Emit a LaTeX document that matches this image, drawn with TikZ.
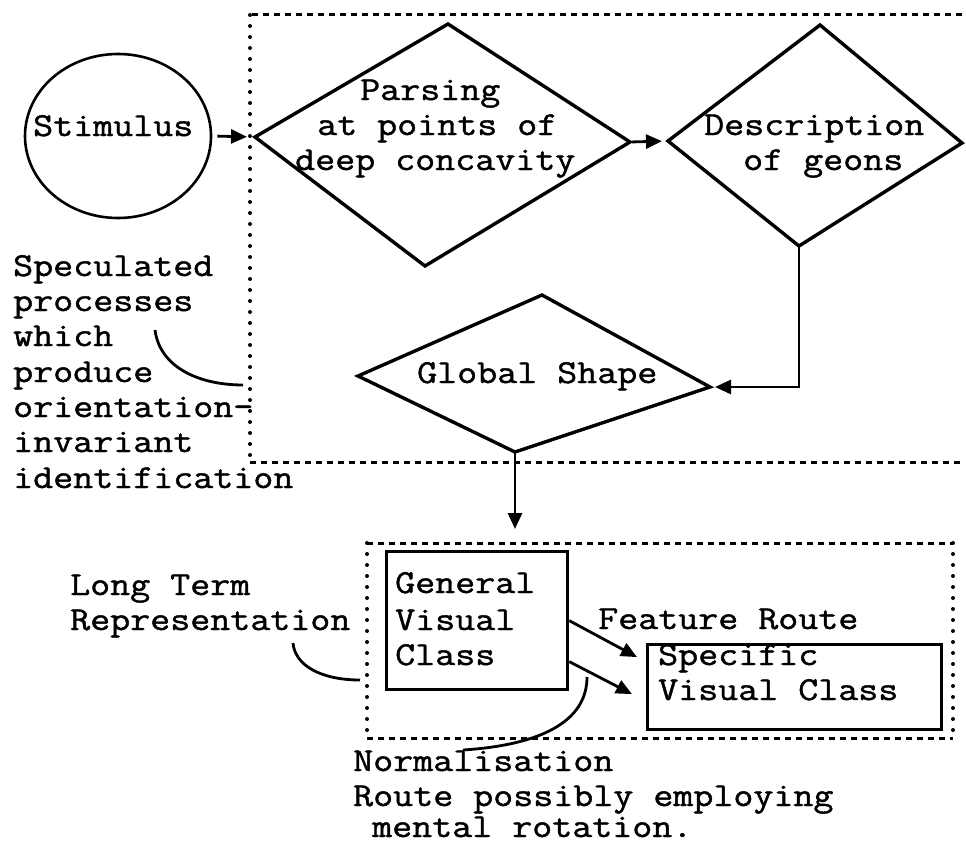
\documentclass[tikz,border=0pt]{standalone}
\usepackage{fontspec}
\setmainfont{Liberation Mono}
\newfontfamily\diafont[FakeStretch=1.16,FakeBold=1.3]{Latin Modern Mono}
\usetikzlibrary{arrows.meta,calc,shapes.geometric}
\begin{document}
\begin{tikzpicture}[x=1pt,y=-1pt,
  shapeline/.style={line width=3.4pt, line join=miter},
  conn/.style={line width=2.8pt, -{Triangle[length=16pt,width=14pt]}},
  plainline/.style={line width=2.8pt},
  dashline/.style={line width=3pt, dash pattern=on 6pt off 5pt},
  dotline/.style={line width=4pt, line cap=round, dash pattern=on 0pt off 11pt},
  lbl/.style={anchor=base west, inner sep=0pt, font=\diafont\fontsize{33.5}{35.5}\selectfont},
]
\useasboundingbox (0,0) rectangle (966,843);

% ---------- dotted frames
\draw[dashline] (962,15) -- (250,15);
\draw[dotline] (250,15) -- (250,462);
\draw[dashline] (250,462) -- (962,462);

\draw[dashline] (367,543) -- (953,543);
\draw[dashline] (367,738) -- (953,738);
\draw[dotline] (367,543) -- (367,738);
\draw[dotline] (953,543) -- (953,738);

% ---------- stimulus
\node[draw, ellipse, line width=2.6pt, minimum width=186pt, minimum height=164pt, inner sep=0pt] (stim) at (118,136) {};
\node[lbl] (stimtxt) at (33,136) {Stimulus};

% ---------- parsing diamond
\coordinate (pT) at (448,24);
\coordinate (pL) at (255,137);
\coordinate (pB) at (425,266);
\coordinate (pR) at (630,142);
\draw[shapeline] (pT) -- (pR) -- (pB) -- (pL) -- cycle;
\node[lbl] (pars1) at (360,100) {Parsing};
\node[lbl] (pars2) at (317,135) {at points of};
\node[lbl] (pars3) at (295,170) {deep concavity};

% ---------- description diamond
\coordinate (dT) at (820,25);
\coordinate (dL) at (668,141);
\coordinate (dR) at (962,143);
\coordinate (dB) at (799,246);
\draw[shapeline] (dT) -- (dR) -- (dB) -- (dL) -- cycle;
\node[lbl] (desc1) at (704,135) {Description};
\node[lbl] (desc2) at (743,170) {of geons};

% ---------- global shape diamond
\coordinate (gT) at (542,295);
\coordinate (gL) at (358,376);
\coordinate (gR) at (710,387);
\coordinate (gB) at (515,452);
\draw[shapeline] (gT) -- (gR) -- (gB) -- (gL) -- cycle;
\node[lbl] (glob) at (417,383) {Global Shape};

% ---------- boxes
\node[draw, line width=3.2pt, minimum width=181pt, minimum height=138pt, anchor=north west, inner sep=0pt] (gvc) at (385,550) {};
\node[lbl] (gvc1) at (395,593) {General};
\node[lbl] (gvc2) at (395,630) {Visual};
\node[lbl] (gvc3) at (395,665) {Class};

\node[draw, line width=3.2pt, minimum width=294pt, minimum height=85pt, anchor=north west, inner sep=0pt] (svc) at (646,643) {};
\node[lbl] (svc1) at (658,665) {Specific};
\node[lbl] (svc2) at (658,700) {Visual Class};

% ---------- connectors
\draw[conn, shorten <=5pt, shorten >=8pt] (stim.east) -- (pL);
\draw[conn, shorten <=2pt, shorten >=6pt] (pR) -- (dL);
\draw[conn, shorten >=5pt] (dB) |- (gR);
\coordinate (gvcin) at (515,529);
\draw[conn] (gB) -- (gvcin);
\draw[conn] (gvc.east) -- ($(svc.west)+(-9,-30)$);
\draw[conn] ($(gvc.east)+(0,41)$) -- ($(svc.west)+(-14,7)$);

% ---------- annotations
\node[lbl] (spec1) at (13,276) {Speculated};
\node[lbl] (spec2) at (13,311) {processes};
\node[lbl] (spec3) at (13,346) {which};
\node[lbl] (spec4) at (13,382) {produce};
\node[lbl] (spec5) at (13,417) {orientation-};
\node[lbl] (spec6) at (13,452) {invariant};
\node[lbl] (spec7) at (13,488) {identification};
\coordinate (sc1) at (155,330);
\coordinate (sc2) at (243,385);
\draw[plainline] (sc1) .. controls (160,368) and (200,385) .. (sc2);

\node[lbl] (lt1) at (70,595) {Long Term};
\node[lbl] (lt2) at (70,630) {Representation};
\coordinate (lc1) at (293,643);
\coordinate (lc2) at (360,680);
\draw[plainline] (lc1) .. controls (295,666) and (322,680) .. (lc2);

\node[lbl] (feat) at (598,629) {Feature Route};

\node[lbl] (norm1) at (353,771) {Normalisation};
\node[lbl] (norm2) at (353,806) {Route possibly employing};
\node[lbl] (norm3) at (372,837) {mental rotation.};
\coordinate (nc1) at (587,677);
\coordinate (nc2) at (463,750);
\draw[plainline] (nc1) .. controls (587,722) and (540,745) .. (nc2);
\end{tikzpicture}
\end{document}
